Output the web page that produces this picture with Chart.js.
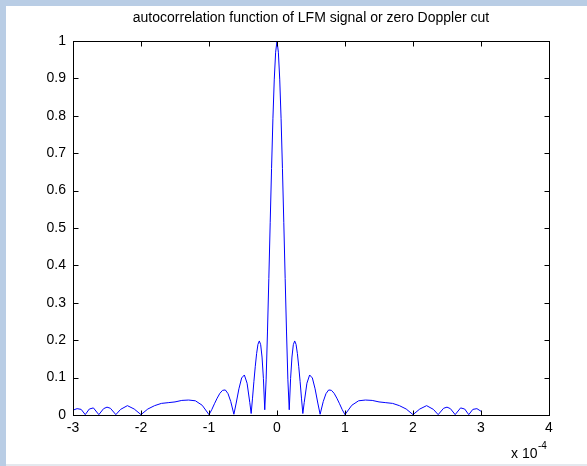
<!DOCTYPE html>
<html>
<head>
<meta charset="utf-8">
<script src="https://cdn.jsdelivr.net/npm/chart.js@4/dist/chart.umd.min.js"></script>
<style>
  html, body { margin:0; padding:0; }
  body { width:587px; height:466px; background:#b9cde5; position:relative; overflow:hidden; }
  #panel { position:absolute; left:6px; top:6px; width:581px; height:458px; background:#fff; border-bottom:2px solid #e4e8ee; }
</style>
</head>
<body>
<div id="panel"><canvas id="acf"></canvas></div>
<script>
  // delay axis, in units of 1e-4 s
  const tau = [
    -3.0, -2.94, -2.88, -2.82, -2.76, -2.7, -2.62, -2.55, -2.5, -2.45, -2.37, -2.3, -2.2, -2.1,
    -2.0, -1.9, -1.8, -1.7, -1.6, -1.5, -1.4, -1.3, -1.2, -1.1,
    -1.0, -0.96, -0.92, -0.88, -0.84, -0.8, -0.76, -0.72, -0.68, -0.634,
    -0.6, -0.56, -0.52, -0.48, -0.44, -0.4, -0.38, -0.36, -0.34, -0.32, -0.3,
    -0.28, -0.26, -0.24, -0.22, -0.2, -0.18, -0.16, -0.14, -0.12, -0.1,
    -0.08, -0.06, -0.04, -0.02, 0,
    0.02, 0.04, 0.06, 0.08, 0.1, 0.12, 0.14, 0.16, 0.18, 0.2,
    0.22, 0.24, 0.26, 0.28, 0.3, 0.32, 0.34, 0.36, 0.38, 0.4,
    0.44, 0.48, 0.52, 0.56, 0.6, 0.634, 0.68, 0.72, 0.76, 0.8,
    0.84, 0.88, 0.92, 0.96, 1.0,
    1.1, 1.2, 1.3, 1.4, 1.5, 1.6, 1.7, 1.8, 1.9, 2.0,
    2.1, 2.2, 2.3, 2.37, 2.45, 2.5, 2.55, 2.62, 2.7, 2.76, 2.82, 2.88, 2.94, 3.0
  ];
  // normalised autocorrelation magnitude
  const acf = [
    0.013, 0.017, 0.015, 0.001, 0.016, 0.019, 0.001, 0.017, 0.021, 0.018, 0.001, 0.015, 0.025, 0.016,
    0.001, 0.016, 0.025, 0.031, 0.033, 0.035, 0.039, 0.040, 0.038, 0.026,
    0.001, 0.014, 0.030, 0.045, 0.058, 0.066, 0.067, 0.057, 0.036, 0.002,
    0.032, 0.070, 0.099, 0.107, 0.085, 0.033, 0.004, 0.045, 0.089, 0.129, 0.164,
    0.189, 0.198, 0.188, 0.155, 0.098, 0.014, 0.094, 0.222, 0.365, 0.514,
    0.659, 0.792, 0.898, 0.970, 1.0,
    0.970, 0.898, 0.792, 0.659, 0.514, 0.365, 0.222, 0.094, 0.014, 0.098,
    0.155, 0.188, 0.198, 0.189, 0.164, 0.129, 0.089, 0.045, 0.004, 0.033,
    0.085, 0.107, 0.099, 0.070, 0.032, 0.002, 0.036, 0.057, 0.067, 0.066,
    0.058, 0.045, 0.030, 0.014, 0.001,
    0.026, 0.038, 0.040, 0.039, 0.035, 0.033, 0.031, 0.025, 0.016, 0.001,
    0.016, 0.025, 0.015, 0.001, 0.018, 0.021, 0.017, 0.001, 0.019, 0.016, 0.001, 0.015, 0.017, 0.010
  ];
  const xTicks = [-3, -2, -1, 0, 1, 2, 3, 4];
  const yTicks = [0, 0.1, 0.2, 0.3, 0.4, 0.5, 0.6, 0.7, 0.8, 0.9, 1];

  const FONT = 'Arial, "Liberation Sans", sans-serif';

  // MATLAB-style box: full frame, inward ticks on all sides, title and exponent label
  const matlabBox = {
    id: 'matlabBox',
    afterDraw(chart) {
      const { ctx, chartArea: a, scales: { x, y } } = chart;
      const L = Math.round(a.left) + 0.5, R = Math.round(a.right) + 0.5;
      const T = Math.round(a.top) + 0.5, B = Math.round(a.bottom) + 0.5;
      const len = 5;
      ctx.save();
      ctx.strokeStyle = '#000';
      ctx.lineWidth = 1;
      ctx.strokeRect(L, T, R - L, B - T);
      ctx.beginPath();
      xTicks.forEach(v => {
        const px = Math.round(x.getPixelForValue(v)) + 0.5;
        ctx.moveTo(px, B); ctx.lineTo(px, B - len);
        ctx.moveTo(px, T); ctx.lineTo(px, T + len);
      });
      yTicks.forEach(v => {
        const py = Math.round(y.getPixelForValue(v)) + 0.5;
        ctx.moveTo(L, py); ctx.lineTo(L + len, py);
        ctx.moveTo(R, py); ctx.lineTo(R - len, py);
      });
      ctx.stroke();

      ctx.fillStyle = '#000';
      ctx.font = '14px ' + FONT;
      ctx.textAlign = 'center';
      ctx.textBaseline = 'middle';
      ctx.fillText('autocorrelation function of LFM signal or zero Doppler cut', (a.left + a.right) / 2, 12);

      ctx.textAlign = 'left';
      ctx.textBaseline = 'alphabetic';
      ctx.fillText('x 10', 505, 452);
      ctx.font = '10px ' + FONT;
      ctx.fillText('-4', 532, 443);
      ctx.restore();
    }
  };

  new Chart(document.getElementById('acf'), {
    type: 'line',
    data: {
      datasets: [{
        data: tau.map((t, i) => ({ x: t, y: acf[i] })),
        borderColor: '#0000ff',
        borderWidth: 1,
        pointRadius: 0,
        tension: 0,
        fill: false
      }]
    },
    options: {
      responsive: true,
      maintainAspectRatio: false,
      animation: false,
      layout: { padding: { top: 35, right: 38, left: 0, bottom: 0 } },
      plugins: { legend: { display: false }, tooltip: { enabled: false } },
      scales: {
        x: {
          type: 'linear', min: -3, max: 4,
          afterFit: s => { s.height = 49; },
          afterBuildTicks: s => { s.ticks = xTicks.map(v => ({ value: v })); },
          grid: { display: false, drawTicks: false },
          border: { display: false },
          ticks: { color: '#000', padding: 5, font: { size: 14, family: FONT }, maxRotation: 0 }
        },
        y: {
          min: 0, max: 1,
          afterFit: s => { s.width = 67; },
          afterBuildTicks: s => { s.ticks = yTicks.map(v => ({ value: v })); },
          grid: { display: false, drawTicks: false },
          border: { display: false },
          ticks: {
            color: '#000', padding: 7, font: { size: 14, family: FONT },
            callback: v => String(Number(v.toFixed(2)))
          }
        }
      }
    },
    plugins: [matlabBox]
  });
</script>
</body>
</html>
